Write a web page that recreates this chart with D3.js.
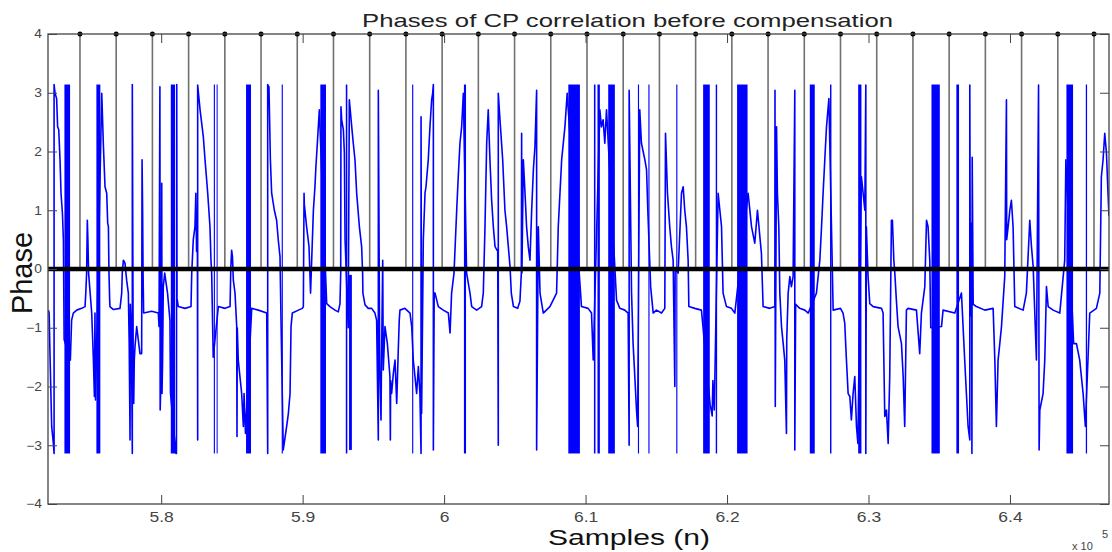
<!DOCTYPE html>
<html>
<head>
<meta charset="utf-8">
<script src="https://cdn.jsdelivr.net/npm/d3@7"></script>
<style>
  body { margin: 0; background: #fff; }
  text { font-family: "Liberation Sans", Arial, sans-serif; }
</style>
</head>
<body>
<svg id="chart" width="1112" height="552"></svg>
<script>
// sample positions are in thousands of samples (axis shows x 10^5)
let xTicks = [580, 590, 600, 610, 620, 630, 640];
let yTicks = [-4, -3, -2, -1, 0, 1, 2, 3, 4];

// CP correlation peaks (stems at phase 4), one per OFDM symbol
let symbolStarts = [574.26, 576.82, 579.38, 581.94, 584.50, 587.06, 589.62, 592.18,
  594.74, 597.30, 599.86, 602.42, 604.98, 607.54, 610.10, 612.66, 615.22, 617.78,
  620.34, 622.90, 625.46, 628.02, 630.58, 633.14, 635.70, 638.26, 640.82, 643.38, 645.94];
let stemHeight = 4;

// stretches where the phase wraps back and forth so fast it fills solid
// [from, to, low phase, high phase]
let wrapBands = [
  [573.16, 573.56, -3.14, 3.14], [575.42, 575.70, -3.14, 3.14], [580.68, 580.98, -3.14, 3.14],
  [583.72, 583.80, -3.14, 3.14], [583.92, 583.98, -3.14, 3.14], [586.00, 586.35, -3.14, 3.14],
  [588.52, 588.60, -3.14, 3.14], [591.25, 591.65, -3.14, 3.14], [593.05, 593.16, -3.14, 3.14],
  [593.28, 593.48, -3.08, -0.10], [597.74, 597.82, -3.14, 3.14], [601.40, 601.55, -3.14, 3.14],
  [608.78, 609.60, -3.14, 3.14], [610.59, 610.70, -3.14, 3.14], [610.84, 611.01, -3.14, 3.14],
  [611.60, 612.07, -3.14, 3.14], [613.70, 613.78, -3.14, 3.14], [614.44, 614.52, -3.14, 3.14],
  [616.41, 616.49, -3.14, 3.14], [618.31, 618.78, -3.14, 3.14], [619.20, 619.30, -3.14, 3.14],
  [620.71, 621.45, -3.14, 3.14], [625.85, 626.20, -3.14, 3.14], [627.28, 627.38, -3.14, 3.14],
  [629.27, 629.50, -3.14, 3.14], [634.45, 635.04, -3.14, 3.14], [636.21, 636.40, -3.14, 3.14],
  [643.99, 644.46, -3.14, 3.14], [645.36, 645.45, -3.14, 3.14]
];

// phase of the CP correlation, [sample (k), phase (rad)]
let phaseTrace = [
  [572.03,-0.70],[572.08,-0.75],[572.14,-1.44],[572.26,-2.68],[572.38,-2.97],[572.43,-3.14],[572.43,3.14],
  [572.50,2.99],[572.61,2.90],[572.68,2.42],[572.76,2.37],[572.85,1.86],[572.92,1.29],[573.02,0.95],
  [573.09,0.49],[573.14,-1.20],
  [573.58,-1.55],[573.67,-0.87],[573.79,-0.75],[574.03,-0.70],[574.38,-0.67],[574.62,-0.64],[574.67,-0.41],
  [574.73,-0.07],[574.78,0.83],[574.82,0.50],[574.87,-0.07],[575.09,-0.75],[575.21,-1.55],[575.28,-2.17],
  [575.32,-0.75],[575.36,-2.23],
  [575.80,2.99],[575.91,2.14],[576.03,1.40],[576.15,1.29],[576.22,0.78],[576.27,0.72],[576.31,-0.07],
  [576.36,-0.53],[576.38,-0.64],[576.62,-0.69],[577.09,-0.67],[577.21,-0.41],[577.25,-0.07],[577.33,0.15],
  [577.44,0.10],[577.56,-0.19],[577.68,-0.41],[577.74,-1.27],[577.80,-2.91],[577.82,-0.60],[577.90,-1.20],
  [577.96,-3.14],[577.96,3.14],[578.03,-2.17],[578.06,-2.29],[578.10,-1.55],[578.15,-1.32],[578.27,-0.98],
  [578.50,-1.44],[578.62,-1.44],[578.65,1.86],[578.69,0.95],[578.72,-0.07],[578.76,-0.75],[579.33,-0.72],
  [579.80,-0.75],[579.85,-0.98],[579.91,3.10],[579.93,-2.40],[580.02,-1.50],[580.04,1.46],[580.06,-2.12],
  [580.10,-1.55],[580.15,-0.30],[580.25,-0.07],[580.32,-0.19],[580.45,-0.41],[580.62,-0.87],[580.66,-2.12],
  [581.04,-3.14],[581.08,-3.14],[581.10,3.14],[581.12,-0.50],[581.21,-0.64],[581.69,-0.67],[582.11,-0.64],
  [582.16,-0.07],[582.27,0.50],[582.39,0.72],[582.45,1.29],[582.50,0.30],[582.56,0.50],[582.58,-2.91],
  [582.58,3.13],[582.75,2.71],[582.98,2.25],[583.10,1.86],[583.29,1.29],[583.45,0.72],[583.52,0.15],
  [583.57,-0.07],[583.68,-1.50],
  [584.04,-0.64],[584.51,-0.67],[584.87,-0.64],[584.92,0.00],[584.98,0.32],[585.04,0.21],[585.10,-0.19],
  [585.22,-0.41],[585.34,-0.98],[585.36,-2.85],[585.38,-1.00],[585.45,-1.55],[585.69,-2.12],[585.81,-2.68],
  [585.86,-2.12],[585.96,-2.80],
  [586.40,-0.67],[586.87,-0.70],[587.46,-0.75],[587.53,-3.14],[587.53,3.14],[587.62,3.10],[587.72,1.86],
  [587.81,1.29],[588.00,1.00],[588.16,0.83],[588.28,0.49],[588.40,0.21],[588.48,-1.00],
  [588.63,-3.08],[588.87,-2.68],[588.99,-2.46],[589.11,-2.12],[589.18,-0.98],[589.27,-0.75],[589.70,-0.70],
  [589.98,-0.67],[590.05,-0.64],[590.10,1.29],[590.12,1.10],[590.28,0.72],[590.45,0.38],[590.56,-0.41],
  [590.64,0.15],[590.76,1.00],[590.87,1.40],[590.94,1.75],[591.04,2.14],[591.18,2.71],
  [591.70,-0.59],[591.93,-0.64],[592.29,-0.70],[592.52,-0.73],[592.64,-0.59],[592.69,-0.07],[592.71,2.76],
  [592.76,2.54],[592.88,2.37],[592.95,1.97],[593.00,0.50],
  [593.22,-1.00],[593.30,2.88],[593.47,2.42],[593.58,2.14],[593.70,1.86],[593.82,1.29],[594.01,0.72],
  [594.17,0.38],[594.24,-0.07],[594.26,-0.41],[594.41,-0.61],[594.64,-0.67],[594.88,-0.67],[595.11,-0.75],
  [595.23,-0.87],[595.35,-2.91],[595.35,3.04],[595.45,-1.72],[595.54,-2.57],[595.57,-1.70],[595.66,0.15],
  [595.70,-1.72],[595.82,-0.98],[595.99,-1.27],[596.17,-1.83],[596.20,-2.91],[596.22,-1.90],[596.29,-2.12],
  [596.41,-1.78],[596.53,-1.55],[596.65,-2.29],[596.76,-1.38],[596.83,-0.87],[596.88,-0.70],[597.23,-0.67],
  [597.59,-0.75],[597.71,-0.98],
  [597.82,-1.55],[597.94,-1.83],[598.06,-2.12],[598.18,-1.66],[598.29,-2.12],[598.37,-3.14],[598.37,2.59],
  [598.41,-2.46],[598.53,0.49],[598.65,1.29],[598.72,1.40],[598.88,1.86],[599.00,2.42],[599.12,2.88],
  [599.19,2.99],[599.24,3.14],[599.24,-3.08],[599.30,-0.41],[599.36,-0.41],[599.59,-0.64],[599.94,-0.70],
  [600.30,-0.75],[600.42,-1.09],[600.53,-0.41],[600.70,-0.07],[600.89,1.00],[601.00,1.57],[601.12,2.14],
  [601.24,2.42],[601.36,2.99],
  [601.59,-0.07],[601.83,-0.41],[601.95,-0.64],[602.30,-0.70],[602.65,-0.64],[602.77,-0.41],[602.89,0.72],
  [603.01,2.14],[603.12,2.71],[603.24,1.86],[603.36,1.17],[603.48,0.72],[603.60,0.38],[603.79,0.30],
  [603.83,-3.00],[603.83,2.99],[603.95,2.54],[604.14,1.86],[604.30,1.00],[604.42,0.72],[604.54,0.38],
  [604.66,0.04],[604.75,-0.41],[604.90,-0.64],[605.20,-0.67],[605.36,-0.55],[605.46,-0.07],[605.48,2.31],
  [605.50,-0.07],[605.60,1.86],[605.72,1.29],[605.83,0.72],[605.95,0.38],[606.07,0.15],[606.19,1.00],
  [606.31,1.69],[606.42,2.08],[606.54,3.04],[606.54,-3.08],[606.66,0.72],[606.78,-0.41],[607.01,-0.75],
  [607.48,-0.64],[607.95,-0.41],[608.07,0.72],[608.31,1.86],[608.54,2.42],[608.70,2.99],
  [609.71,-0.64],[610.18,-0.67],[610.42,-0.75],[610.54,-1.55],
  [611.01,2.71],[611.12,2.42],[611.24,2.54],[611.36,2.14],[611.48,2.71],
  [612.19,-0.53],[612.42,-0.67],[612.77,-0.70],[613.01,-0.75],[613.08,-3.00],[613.08,3.04],[613.25,-0.41],
  [613.36,-1.27],[613.48,-1.83],[613.60,-2.40],[613.68,-2.68],
  [613.83,2.71],[613.95,2.14],[614.19,1.86],[614.31,1.69],[614.40,1.00],
  [614.60,-0.30],[614.78,-0.75],[615.01,-0.70],[615.37,-0.75],[615.60,-0.67],[615.65,2.31],[615.79,1.29],
  [615.95,0.72],[616.07,0.38],[616.19,0.15],[616.31,-2.00],[616.33,0.00],
  [616.54,-0.07],[616.78,1.29],[616.90,1.40],[617.01,1.00],[617.13,0.72],[617.25,0.15],[617.30,-0.64],
  [617.72,-0.67],[618.19,-0.70],
  [618.80,-2.30],[618.95,-2.50],[619.00,-1.90],[619.10,-2.40],
  [619.37,1.29],[619.61,0.72],[619.72,-0.41],[619.96,-0.64],[620.31,-0.67],[620.55,-0.75],
  [621.49,1.29],[621.73,0.72],[621.96,0.44],[622.15,1.00],[622.32,0.55],[622.43,0.27],[622.55,-0.64],
  [623.02,-0.67],[623.38,-0.64],[623.39,3.04],[623.41,-2.34],[623.50,2.42],[623.56,1.29],[623.66,0.72],
  [623.73,-0.41],[623.85,-0.98],[623.97,-1.27],[624.08,-1.55],[624.20,-2.80],[624.22,-1.20],[624.32,-0.41],
  [624.44,-0.13],[624.55,-0.30],[624.67,-0.13],[624.79,3.04],[624.79,-3.08],[624.85,-0.60],[625.14,-0.67],
  [625.50,-0.70],[625.74,-0.75],
  [626.32,-0.41],[626.56,0.15],[626.68,0.72],[626.79,1.29],[626.91,1.86],[627.03,2.42],[627.20,2.90],
  [627.50,-0.70],[628.02,-0.67],[628.20,-0.75],[628.32,-0.92],[628.44,-1.55],[628.56,-2.12],[628.68,-2.17],
  [628.79,-2.57],[628.91,-2.12],[629.03,-1.83],[629.15,-2.68],[629.25,-2.97],
  [629.50,1.57],[629.62,1.29],[629.74,1.00],[629.81,3.13],[629.81,-3.14],[629.85,0.72],[629.97,-0.13],
  [630.09,-0.59],[630.33,-0.64],[630.92,-0.67],[631.03,-0.75],[631.15,-2.51],[631.27,-2.40],[631.39,-2.97],
  [631.50,-1.83],[631.62,0.83],[631.69,0.83],[631.79,0.15],[631.86,-0.07],[631.97,-0.53],[632.09,-0.98],
  [632.33,-1.27],[632.45,-1.83],[632.56,-2.68],[632.68,-0.70],[632.80,-0.67],[633.39,-0.70],[633.62,-1.44],
  [633.74,-0.75],[633.98,-0.30],[634.10,0.83],[634.21,0.72],[634.33,0.15],[634.40,-1.00],
  [635.16,-0.98],[635.27,-0.70],[636.10,-0.75],
  [636.57,-0.41],[636.80,-1.55],[636.92,-2.12],[637.04,-2.68],[637.16,-2.91],[637.16,3.13],[637.20,-0.80],
  [637.28,0.78],[637.31,-3.14],[637.33,1.90],[637.40,-0.60],[637.63,-0.64],[638.22,-0.70],[638.81,-0.67],
  [638.93,-1.55],[639.04,-2.68],[639.16,-1.55],[639.28,-1.27],[639.40,-0.98],[639.63,-0.13],[639.75,2.88],
  [639.77,0.50],[639.87,0.72],[639.99,1.00],[640.10,1.17],[640.22,0.72],[640.34,-0.64],[640.93,-0.70],
  [641.16,-0.41],[641.40,0.83],[641.52,0.38],[641.64,0.04],[641.87,-1.55],[642.02,3.13],[642.06,-3.08],
  [642.11,-2.40],[642.34,-2.12],[642.46,-1.55],[642.58,-0.30],[642.70,-0.64],[643.05,-0.70],[643.52,-0.75],
  [643.87,0.15],[643.95,1.86],
  [644.50,-1.27],[644.70,-1.27],[644.93,-1.55],[645.17,-2.12],[645.33,-2.68],
  [645.64,-0.75],[646.11,-0.67],[646.35,-0.41],[646.46,1.57],[646.58,1.86],[646.70,2.31],[646.82,1.97],
  [646.93,1.29],[647.00,0.90]
];

let margin = {
  top: 34,
  right: 3,
  bottom: 48,
  left: 48 };

let svg = d3.select("#chart"),
width = +svg.attr("width") - margin.left - margin.right,
height = +svg.attr("height") - margin.top - margin.bottom;

let x = d3.scaleLinear().domain([572, 647]).range([0, width]);
let y = d3.scaleLinear().domain([-4, 4]).range([height, 0]);

svg.append("rect").
attr("width", 1112).
attr("height", 552).
attr("fill", "#fff");

svg.append("defs").append("clipPath").
attr("id", "plot-clip").
append("rect").
attr("width", width).
attr("height", height);

let g = svg.append("g").
attr("transform", "translate(" + margin.left + "," + margin.top + ")");

let plot = g.append("g").attr("clip-path", "url(#plot-clip)");

const blue = "#0000ff";

plot.selectAll(".band").
data(wrapBands).
enter().append("rect").
attr("class", "band").
attr("x", d => x(d[0])).
attr("width", d => Math.max(1, x(d[1]) - x(d[0]))).
attr("y", d => y(d[3])).
attr("height", d => y(d[2]) - y(d[3])).
attr("fill", blue);

let line = d3.line().
x(d => x(d[0])).
y(d => y(d[1]));

plot.append("path").
datum(phaseTrace).
attr("d", line).
attr("fill", "none").
attr("stroke", blue).
attr("stroke-width", 1.6).
attr("stroke-linejoin", "round");

// stems
plot.selectAll(".stem").
data(symbolStarts).
enter().append("line").
attr("class", "stem").
attr("x1", d => x(d)).
attr("x2", d => x(d)).
attr("y1", y(0)).
attr("y2", y(stemHeight)).
attr("stroke", "#707070").
attr("stroke-width", 1.6);

// stem baseline
plot.append("line").
attr("x1", 0).
attr("x2", width).
attr("y1", y(0)).
attr("y2", y(0)).
attr("stroke", "#000").
attr("stroke-width", 4.5);

g.selectAll(".stem-dot").
data(symbolStarts).
enter().append("circle").
attr("class", "stem-dot").
attr("cx", d => x(d)).
attr("cy", y(stemHeight)).
attr("r", 2.5).
attr("fill", "#000");

// axes, matlab style: ticks inside on all four sides
function styleAxis(a) {
  a.select(".domain").remove();
  a.selectAll("line").attr("stroke", "#444");
  a.selectAll("text").
  attr("fill", "#444").
  style("font-family", "'Liberation Sans', Arial, sans-serif");
}

let xAxis = g.append("g").
attr("transform", "translate(0," + height + ")").
call(d3.axisBottom(x).tickValues(xTicks).tickSizeInner(-9).tickSizeOuter(0).tickPadding(8).
tickFormat(d => String(d / 100))).
call(styleAxis);
xAxis.selectAll("text").
style("font-size", "14px").
attr("transform", "scale(1.25,1)");

g.append("g").
call(d3.axisTop(x).tickValues(xTicks).tickSizeInner(-9).tickSizeOuter(0).tickFormat("")).
call(styleAxis);

let yAxis = g.append("g").
call(d3.axisLeft(y).tickValues(yTicks).tickSizeInner(-9).tickSizeOuter(0).tickPadding(6)).
call(styleAxis);
yAxis.selectAll("text").
style("font-size", "12px").
attr("transform", "scale(1.15,1)").
attr("x", -6 / 1.15);

g.append("g").
attr("transform", "translate(" + width + ",0)").
call(d3.axisRight(y).tickValues(yTicks).tickSizeInner(-9).tickSizeOuter(0).tickFormat("")).
call(styleAxis);

g.append("rect").
attr("width", width).
attr("height", height).
attr("fill", "none").
attr("stroke", "#444").
attr("stroke-width", 1.3);

// titles
svg.append("text").
attr("x", 362).
attr("y", 27).
attr("textLength", 531).
attr("lengthAdjust", "spacingAndGlyphs").
style("font-size", "19px").
attr("fill", "#222").
text("Phases of CP correlation before compensation");

svg.append("text").
attr("x", 548).
attr("y", 545).
attr("textLength", 162).
attr("lengthAdjust", "spacingAndGlyphs").
style("font-size", "22px").
attr("fill", "#111").
text("Samples (n)");

svg.append("text").
attr("transform", "translate(32,273) rotate(-90)").
attr("text-anchor", "middle").
style("font-size", "29px").
attr("fill", "#111").
text("Phase");

svg.append("text").
attr("x", 1072).
attr("y", 550).
style("font-size", "11px").
attr("fill", "#444").
text("x 10");

svg.append("text").
attr("x", 1102).
attr("y", 538).
style("font-size", "11px").
attr("fill", "#444").
text("5");
</script>
</body>
</html>
